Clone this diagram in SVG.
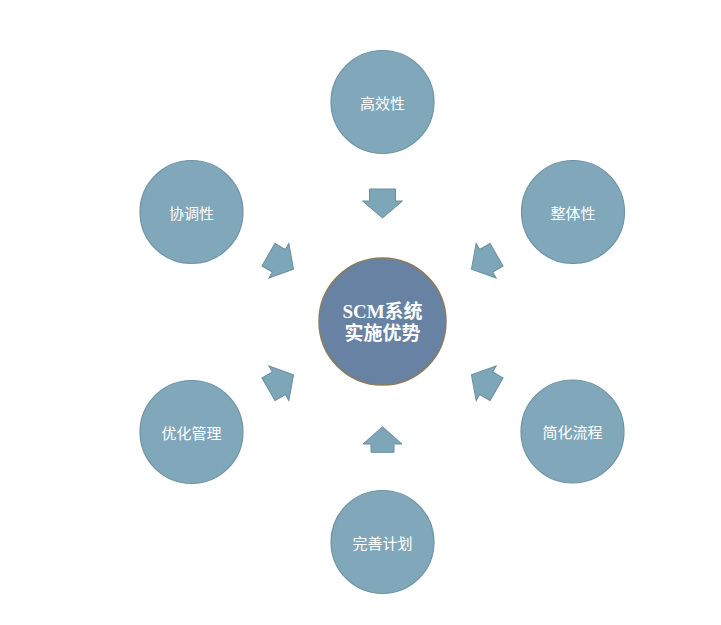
<svg xmlns="http://www.w3.org/2000/svg" width="721" height="625" viewBox="0 0 721 625">
<style>
.outer{fill:#80a8ba;stroke:#6e93a5;stroke-width:1.2}
.lbl{fill:#ffffff;font-family:"Noto Sans CJK SC","Liberation Sans",sans-serif;font-size:15px;text-anchor:middle;dominant-baseline:central}
.ctr{fill:#6782a3;stroke:#8c7c5c;stroke-width:1.5}
.ctxt{fill:#ffffff;font-family:"Liberation Serif","Noto Sans CJK SC",serif;font-size:19px;font-weight:bold;text-anchor:middle;dominant-baseline:central}
.arr{fill:#7ea6b9;stroke:#6a8fa1;stroke-width:1}
</style>
<defs>
<path id="darrow" d="M-13,-14.5 H13 V-2.5 H20 L0,14.5 L-20,-2.5 H-13 Z"/>
</defs>
<rect width="721" height="625" fill="#ffffff"/>
<g id="connectors">
<use href="#darrow" class="arr" transform="translate(382.5,203.5)"/>
<use href="#darrow" class="arr" transform="translate(281,262) rotate(-60)"/>
<use href="#darrow" class="arr" transform="translate(484,262) rotate(60)"/>
<use href="#darrow" class="arr" transform="translate(281,382) rotate(-120)"/>
<use href="#darrow" class="arr" transform="translate(484,382) rotate(120)"/>
<path class="arr" d="M382.5,426.7 L402,444 H394 V452.3 H371 V444 H363 Z"/>
</g>
<g id="center">
<circle class="ctr" cx="382.5" cy="321.5" r="63.5"/>
<text class="ctxt" x="382.5" y="311">SCM系统</text>
<text class="ctxt" x="382.5" y="333">实施优势</text>
</g>
<g id="n-gaoxiao">
<circle class="outer" cx="382.5" cy="102" r="51.5"/>
<text class="lbl" x="382.5" y="102">高效性</text>
</g>
<g id="n-xietiao">
<circle class="outer" cx="191.5" cy="212" r="51.5"/>
<text class="lbl" x="191.5" y="212">协调性</text>
</g>
<g id="n-zhengti">
<circle class="outer" cx="573" cy="212" r="51.5"/>
<text class="lbl" x="573" y="212">整体性</text>
</g>
<g id="n-youhua">
<circle class="outer" cx="191.5" cy="432" r="51.5"/>
<text class="lbl" x="191.5" y="432">优化管理</text>
</g>
<g id="n-jianhua">
<circle class="outer" cx="572.5" cy="431.5" r="51.5"/>
<text class="lbl" x="572.5" y="431.5">简化流程</text>
</g>
<g id="n-wanshan">
<circle class="outer" cx="382.5" cy="542" r="51.5"/>
<text class="lbl" x="382.5" y="542">完善计划</text>
</g>
</svg>
